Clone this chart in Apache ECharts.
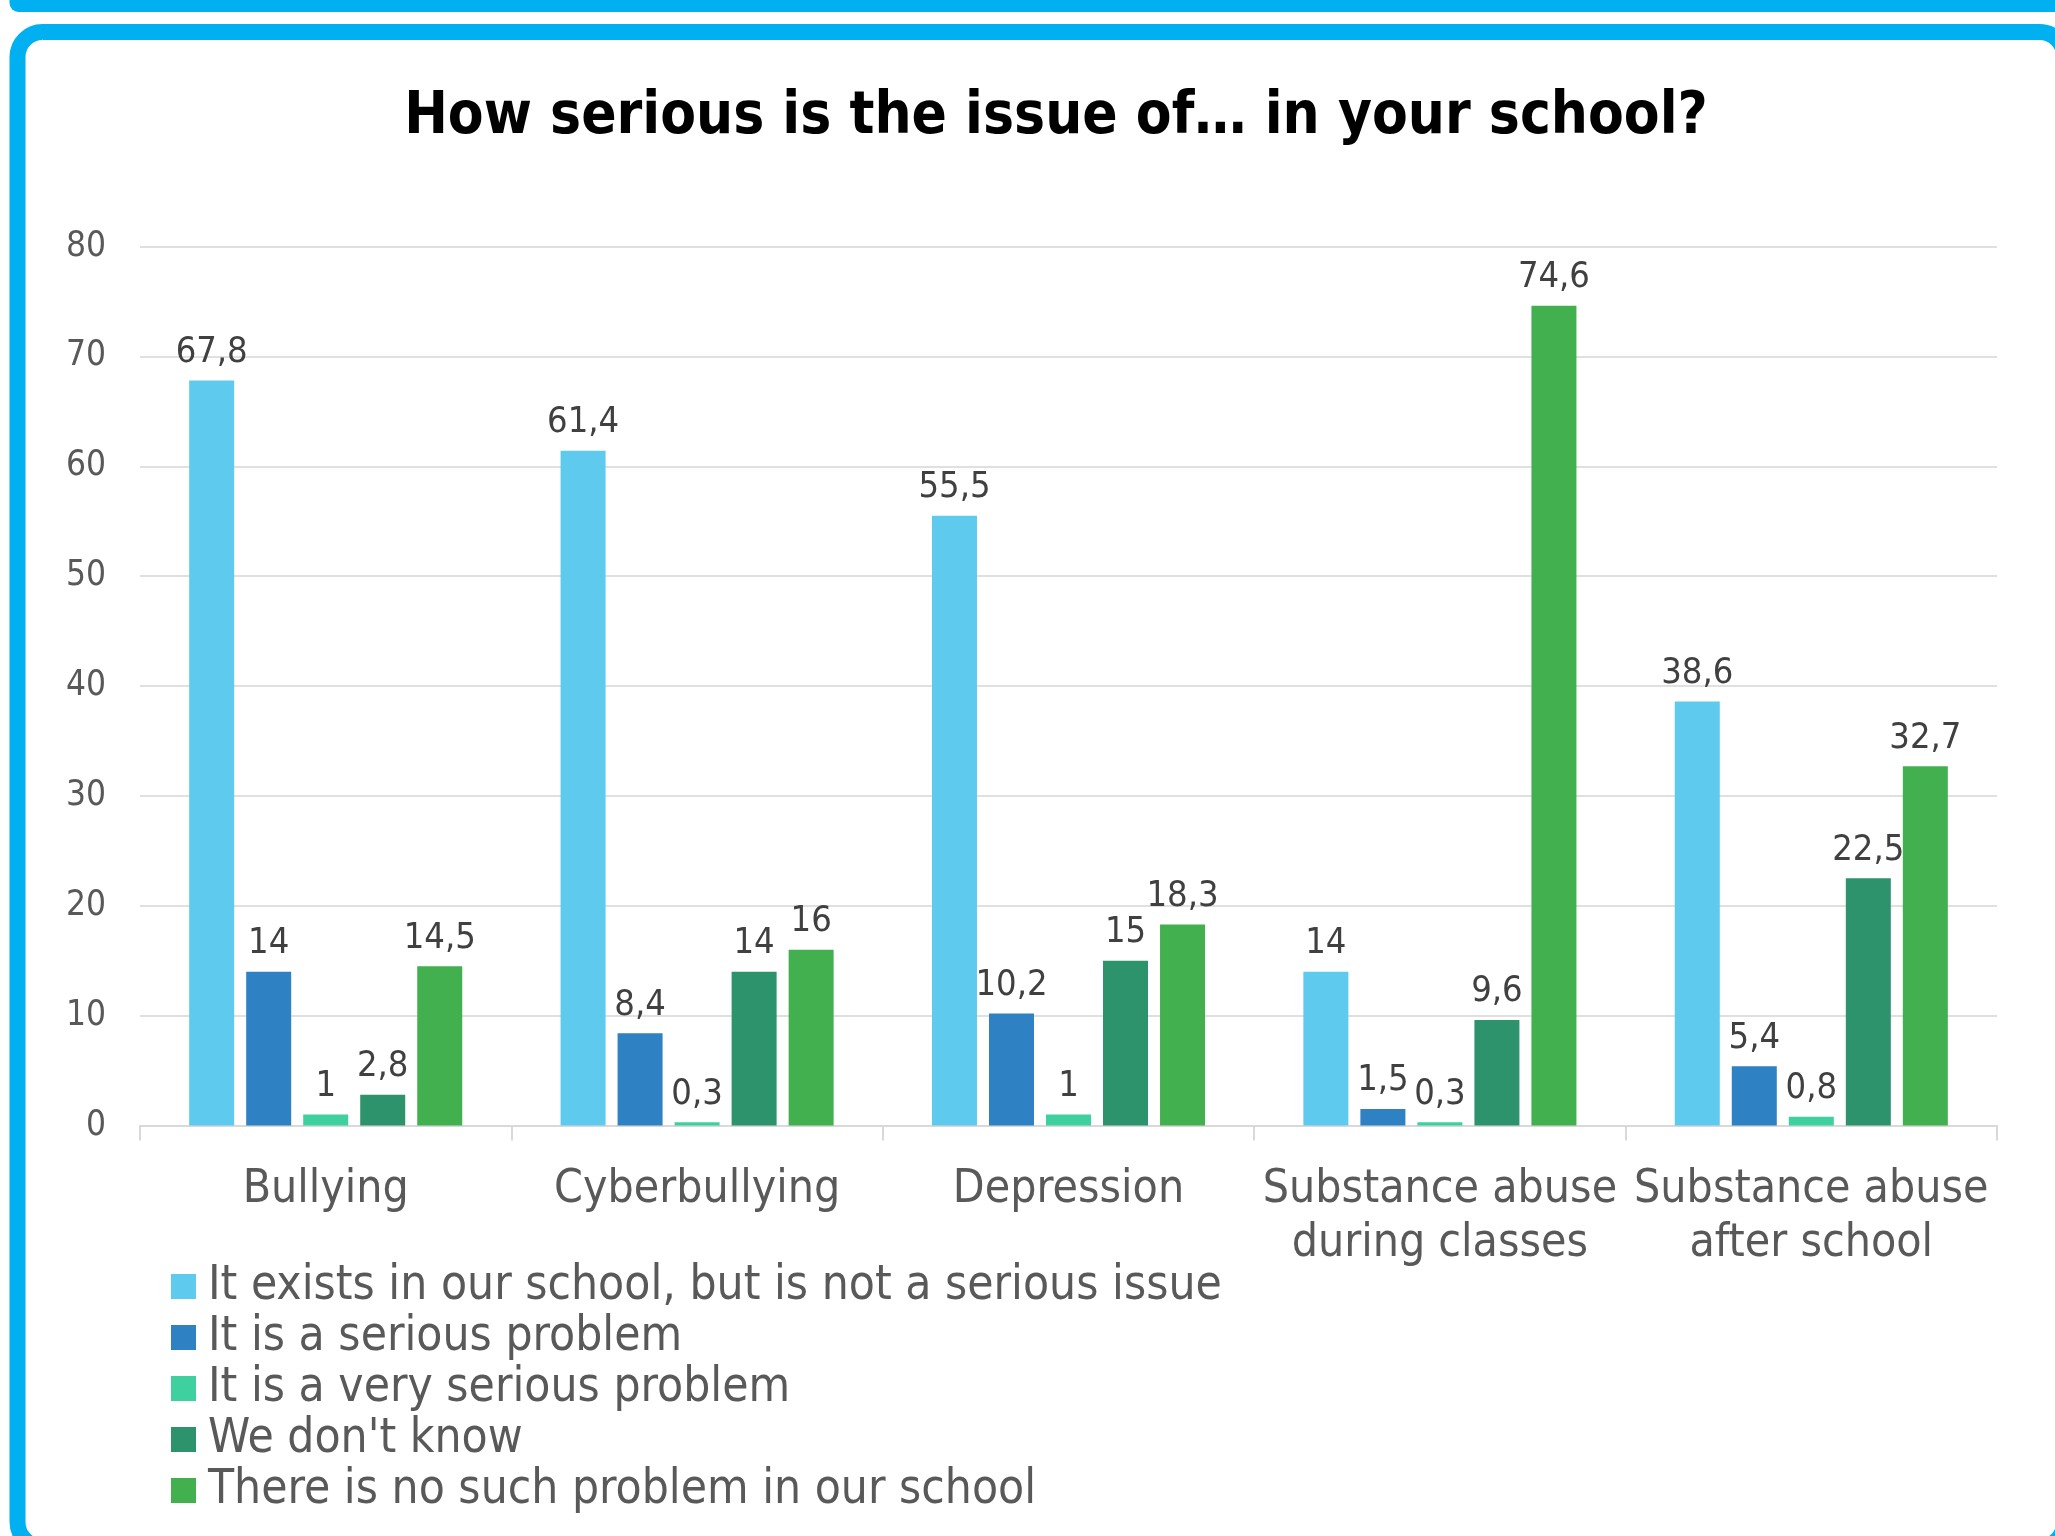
<!DOCTYPE html>
<html>
<head>
<meta charset="utf-8">
<style>
  html, body { margin: 0; padding: 0; background: #ffffff; }
  #chart { width: 2055px; height: 1536px; }
</style>
<script src="https://cdn.jsdelivr.net/npm/echarts@6/dist/echarts.min.js"></script>
</head>
<body>
<div id="chart"></div>
<script>
// Survey: perceived seriousness of issues at school (percent of answers)
const categories = [
  'Bullying',
  'Cyberbullying',
  'Depression',
  'Substance abuse\nduring classes',
  'Substance abuse\nafter school'
];
const seriesNames = [
  'It exists in our school, but is not a serious issue',
  'It is a serious problem',
  'It is a very serious problem',
  "We don't know",
  'There is no such problem in our school'
];
const existsNotSerious = [67.8, 61.4, 55.5, 14, 38.6];
const seriousProblem   = [14, 8.4, 10.2, 1.5, 5.4];
const verySerious      = [1, 0.3, 1, 0.3, 0.8];
const dontKnow         = [2.8, 14, 15, 9.6, 22.5];
const noSuchProblem    = [14.5, 16, 18.3, 74.6, 32.7];
const yTicks = [0, 10, 20, 30, 40, 50, 60, 70, 80];

const seriesValues = [existsNotSerious, seriousProblem, verySerious, dontKnow, noSuchProblem];
const colors = ['#5ECBEE', '#2E81C2', '#3FD0A0', '#2D936C', '#43B04F'];

const FONT = '"DejaVu Sans Condensed", "DejaVu Sans", sans-serif';
const frameBlue = '#00B0F0';

const chart = echarts.init(document.getElementById('chart'), null, { renderer: 'canvas' });

const series = seriesValues.map((vals, i) => ({
  name: seriesNames[i],
  type: 'bar',
  data: vals,
  barWidth: 45,
  barGap: '26.7%',
  itemStyle: { color: colors[i] },
  label: {
    show: true,
    position: 'top',
    distance: 10,
    fontFamily: FONT,
    fontSize: 36,
    color: '#404040',
    formatter: p => String(p.value).replace('.', ',')
  },
  emphasis: { disabled: true }
}));

chart.setOption({
  backgroundColor: '#ffffff',
  animation: false,
  color: colors,
  title: {
    text: 'How serious is the issue of… in your school?',
    left: 1051,
    top: 84,
    textAlign: 'center',
    textStyle: {
      fontFamily: FONT,
      fontWeight: 'bold',
      fontSize: 58,
      color: '#000000'
    }
  },
  graphic: [
    {
      type: 'rect',
      z: -1,
      shape: { x: 9.5, y: -60, width: 2200, height: 72, r: 9 },
      style: { fill: frameBlue }
    },
    {
      type: 'rect',
      z: -1,
      shape: { x: 17.5, y: 32, width: 2047, height: 1515, r: 25 },
      style: { fill: 'none', stroke: frameBlue, lineWidth: 16 }
    }
  ],
  grid: {
    left: 140,
    right: 58,
    top: 246.5,
    bottom: 410.5,
    containLabel: false
  },
  legend: {
    orient: 'vertical',
    left: 166,
    top: 1256,
    itemWidth: 25,
    itemHeight: 25,
    itemGap: 0,
    icon: 'rect',
    selectedMode: false,
    data: seriesNames,
    textStyle: {
      fontFamily: FONT,
      fontSize: 47.5,
      lineHeight: 51,
      color: '#595959',
      padding: [0, 0, 0, 7]
    }
  },
  xAxis: {
    type: 'category',
    data: categories,
    axisLine: { lineStyle: { color: '#d9d9d9', width: 2 } },
    axisTick: { show: true, length: 15, lineStyle: { color: '#d9d9d9', width: 2 } },
    axisLabel: {
      fontFamily: FONT,
      fontSize: 46,
      lineHeight: 54,
      color: '#595959',
      margin: 38,
      interval: 0
    }
  },
  yAxis: {
    type: 'value',
    min: yTicks[0],
    max: yTicks[yTicks.length - 1],
    interval: yTicks[1] - yTicks[0],
    axisLine: { show: false },
    axisTick: { show: false },
    splitLine: { lineStyle: { color: '#e0e0e0', width: 2 } },
    axisLabel: {
      fontFamily: FONT,
      fontSize: 35,
      color: '#595959',
      margin: 34
    }
  },
  series: series
});
</script>
</body>
</html>
